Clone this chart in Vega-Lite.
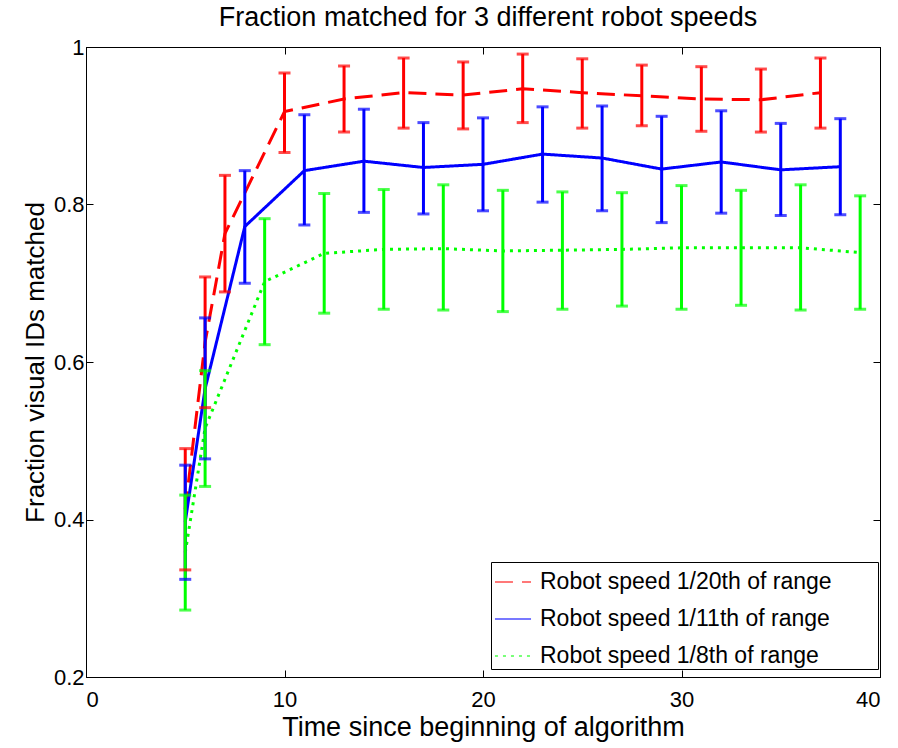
{
  "$schema": "https://vega.github.io/schema/vega-lite/v6.json",
  "width": 794,
  "height": 630,
  "autosize": "none",
  "padding": {"left": 86, "top": 47, "right": 18, "bottom": 71},
  "background": "white",
  "title": {
    "text": "Fraction matched for 3 different robot speeds",
    "font": "Liberation Sans",
    "fontSize": 27,
    "fontWeight": "normal",
    "color": "black",
    "anchor": "middle",
    "offset": 4,
    "dx": 5
  },
  "config": {
    "view": {"stroke": "black", "strokeWidth": 1},
    "font": "Liberation Sans",
    "axis": {
      "labelFont": "Liberation Sans",
      "labelFontSize": 22,
      "labelColor": "black",
      "titleFont": "Liberation Sans",
      "titleFontSize": 26,
      "titleFontWeight": "normal",
      "titleColor": "black",
      "domainColor": "black",
      "tickColor": "black",
      "tickSize": -7,
      "grid": false,
      "labelPadding": 9
    },
    "legend": {
      "orient": "none", "legendX": 405, "legendY": 515,
      "strokeColor": "black", "fillColor": "white", "padding": 1,
      "titleOrient": "right", "titleFontSize": 24, "titlePadding": 5, "titleFont": "Liberation Sans", "titleOpacity": 0,
      "labelFont": "Liberation Sans", "labelFontSize": 23, "labelColor": "black", "labelLimit": 0,
      "labelOffset": 8, "symbolType": "stroke", "symbolSize": 1300, "symbolStrokeWidth": 1.5,
      "rowPadding": 6, "symbolOffset": 2
    }
  },
  "data": {
    "values": [
      {"speed": "Robot speed 1/20th of range", "t": 5, "mean": 0.413, "lo": 0.336, "hi": 0.490},
      {"speed": "Robot speed 1/20th of range", "t": 6, "mean": 0.625, "lo": 0.542, "hi": 0.708},
      {"speed": "Robot speed 1/20th of range", "t": 7, "mean": 0.763, "lo": 0.689, "hi": 0.837},
      {"speed": "Robot speed 1/20th of range", "t": 10, "mean": 0.918, "lo": 0.866, "hi": 0.967},
      {"speed": "Robot speed 1/20th of range", "t": 13, "mean": 0.934, "lo": 0.892, "hi": 0.976},
      {"speed": "Robot speed 1/20th of range", "t": 16, "mean": 0.942, "lo": 0.897, "hi": 0.986},
      {"speed": "Robot speed 1/20th of range", "t": 19, "mean": 0.939, "lo": 0.896, "hi": 0.981},
      {"speed": "Robot speed 1/20th of range", "t": 22, "mean": 0.947, "lo": 0.904, "hi": 0.991},
      {"speed": "Robot speed 1/20th of range", "t": 25, "mean": 0.942, "lo": 0.897, "hi": 0.985},
      {"speed": "Robot speed 1/20th of range", "t": 28, "mean": 0.938, "lo": 0.900, "hi": 0.977},
      {"speed": "Robot speed 1/20th of range", "t": 31, "mean": 0.934, "lo": 0.893, "hi": 0.975},
      {"speed": "Robot speed 1/20th of range", "t": 34, "mean": 0.933, "lo": 0.892, "hi": 0.972},
      {"speed": "Robot speed 1/20th of range", "t": 37, "mean": 0.942, "lo": 0.897, "hi": 0.986},
      {"speed": "Robot speed 1/11th of range", "t": 5, "mean": 0.397, "lo": 0.324, "hi": 0.469},
      {"speed": "Robot speed 1/11th of range", "t": 6, "mean": 0.566, "lo": 0.477, "hi": 0.656},
      {"speed": "Robot speed 1/11th of range", "t": 8, "mean": 0.772, "lo": 0.700, "hi": 0.843},
      {"speed": "Robot speed 1/11th of range", "t": 11, "mean": 0.843, "lo": 0.774, "hi": 0.914},
      {"speed": "Robot speed 1/11th of range", "t": 14, "mean": 0.855, "lo": 0.790, "hi": 0.921},
      {"speed": "Robot speed 1/11th of range", "t": 17, "mean": 0.847, "lo": 0.788, "hi": 0.904},
      {"speed": "Robot speed 1/11th of range", "t": 20, "mean": 0.851, "lo": 0.792, "hi": 0.910},
      {"speed": "Robot speed 1/11th of range", "t": 23, "mean": 0.864, "lo": 0.803, "hi": 0.924},
      {"speed": "Robot speed 1/11th of range", "t": 26, "mean": 0.859, "lo": 0.792, "hi": 0.925},
      {"speed": "Robot speed 1/11th of range", "t": 29, "mean": 0.845, "lo": 0.777, "hi": 0.912},
      {"speed": "Robot speed 1/11th of range", "t": 32, "mean": 0.854, "lo": 0.789, "hi": 0.919},
      {"speed": "Robot speed 1/11th of range", "t": 35, "mean": 0.844, "lo": 0.786, "hi": 0.903},
      {"speed": "Robot speed 1/11th of range", "t": 38, "mean": 0.848, "lo": 0.787, "hi": 0.909},
      {"speed": "Robot speed 1/8th of range", "t": 5, "mean": 0.358, "lo": 0.285, "hi": 0.431},
      {"speed": "Robot speed 1/8th of range", "t": 6, "mean": 0.516, "lo": 0.442, "hi": 0.589},
      {"speed": "Robot speed 1/8th of range", "t": 9, "mean": 0.702, "lo": 0.622, "hi": 0.782},
      {"speed": "Robot speed 1/8th of range", "t": 12, "mean": 0.738, "lo": 0.662, "hi": 0.814},
      {"speed": "Robot speed 1/8th of range", "t": 15, "mean": 0.743, "lo": 0.667, "hi": 0.819},
      {"speed": "Robot speed 1/8th of range", "t": 18, "mean": 0.744, "lo": 0.666, "hi": 0.825},
      {"speed": "Robot speed 1/8th of range", "t": 21, "mean": 0.741, "lo": 0.664, "hi": 0.818},
      {"speed": "Robot speed 1/8th of range", "t": 24, "mean": 0.742, "lo": 0.667, "hi": 0.816},
      {"speed": "Robot speed 1/8th of range", "t": 27, "mean": 0.743, "lo": 0.671, "hi": 0.815},
      {"speed": "Robot speed 1/8th of range", "t": 30, "mean": 0.745, "lo": 0.667, "hi": 0.824},
      {"speed": "Robot speed 1/8th of range", "t": 33, "mean": 0.745, "lo": 0.672, "hi": 0.818},
      {"speed": "Robot speed 1/8th of range", "t": 36, "mean": 0.745, "lo": 0.666, "hi": 0.825},
      {"speed": "Robot speed 1/8th of range", "t": 39, "mean": 0.739, "lo": 0.667, "hi": 0.811}
    ]
  },
  "layer": [
    {
      "mark": {"type": "line", "strokeWidth": 3},
      "encoding": {
        "x": {"field": "t", "type": "quantitative", "scale": {"domain": [0, 40], "nice": false, "zero": false},
              "axis": {"values": [0, 10, 20, 30, 40], "format": "d", "title": "Time since beginning of algorithm", "titlePadding": 4, "labelPadding": 19, "titleFontSize": 27}},
        "y": {"field": "mean", "type": "quantitative", "scale": {"domain": [0.2, 1], "nice": false, "zero": false},
              "axis": {"values": [0.2, 0.4, 0.6, 0.8, 1], "format": "~g", "title": "Fraction visual IDs matched", "titlePadding": 5}},
        "color": {"field": "speed", "type": "nominal", "title": "MM",
                  "scale": {"domain": ["Robot speed 1/20th of range", "Robot speed 1/11th of range", "Robot speed 1/8th of range"], "range": ["#ff0000", "#0000ff", "#00ff00"]}},
        "strokeDash": {"field": "speed", "type": "nominal", "title": "MM",
                       "scale": {"domain": ["Robot speed 1/20th of range", "Robot speed 1/11th of range", "Robot speed 1/8th of range"], "range": [[18, 9], [1, 0], [3, 5]]}}
      }
    },
    {
      "mark": {"type": "rule", "strokeWidth": 3},
      "encoding": {
        "x": {"field": "t", "type": "quantitative", "scale": {"domain": [0, 40], "nice": false, "zero": false},
              "axis": {"orient": "top", "values": [0, 10, 20, 30, 40], "labels": false, "title": null}},
        "y": {"field": "lo", "type": "quantitative", "scale": {"domain": [0.2, 1], "nice": false, "zero": false},
              "axis": {"orient": "right", "values": [0.2, 0.4, 0.6, 0.8, 1], "labels": false, "title": null}},
        "y2": {"field": "hi"},
        "color": {"field": "speed", "type": "nominal", "title": "MM"}
      }
    },
    {
      "mark": {"type": "tick", "orient": "horizontal", "size": 12, "thickness": 3},
      "encoding": {
        "x": {"field": "t", "type": "quantitative", "scale": {"domain": [0, 40], "nice": false, "zero": false}, "axis": null},
        "y": {"field": "lo", "type": "quantitative", "scale": {"domain": [0.2, 1], "nice": false, "zero": false}, "axis": null},
        "color": {"field": "speed", "type": "nominal", "title": "MM"}
      }
    },
    {
      "mark": {"type": "tick", "orient": "horizontal", "size": 12, "thickness": 3},
      "encoding": {
        "x": {"field": "t", "type": "quantitative", "scale": {"domain": [0, 40], "nice": false, "zero": false}, "axis": null},
        "y": {"field": "hi", "type": "quantitative", "scale": {"domain": [0.2, 1], "nice": false, "zero": false}, "axis": null},
        "color": {"field": "speed", "type": "nominal", "title": "MM"}
      }
    }
  ],
  "resolve": {"scale": {"x": "independent", "y": "independent"}, "axis": {"x": "independent", "y": "independent"}}
}
